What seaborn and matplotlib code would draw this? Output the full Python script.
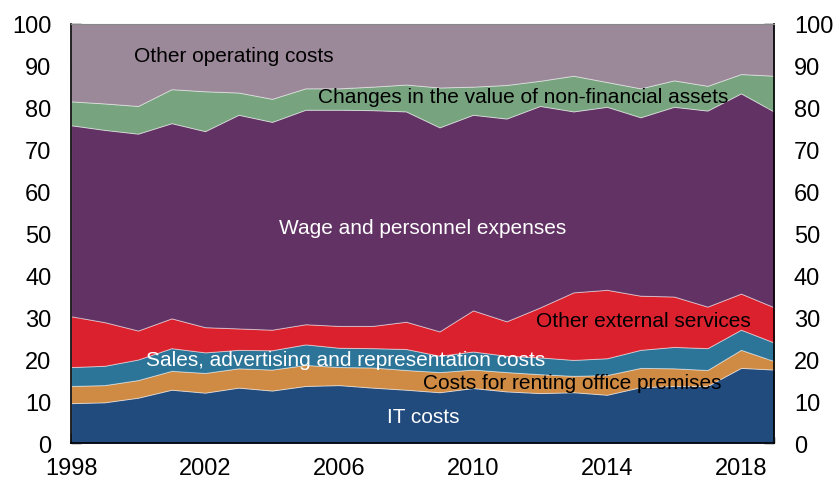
import numpy as np
import pandas as pd
import seaborn as sns
import matplotlib.pyplot as plt
from matplotlib.ticker import FixedLocator, MultipleLocator

# Cost shares, per cent of total operating costs
years = list(range(1998, 2020))
it_costs = [9.6, 9.8, 10.9, 12.8, 12.1, 13.3, 12.6, 13.7, 13.9, 13.3, 12.8,
            12.2, 13.2, 12.4, 12.0, 12.2, 11.6, 13.4, 13.7, 13.7, 18.0, 17.6]
renting = [4.1, 4.1, 4.2, 4.5, 4.7, 4.6, 5.0, 5.0, 4.3, 4.8, 4.7,
           4.8, 4.4, 4.6, 4.5, 3.9, 4.7, 4.6, 4.2, 3.8, 4.3, 2.0]
sales = [4.5, 4.6, 4.9, 5.4, 4.9, 4.4, 4.6, 4.9, 4.6, 4.6, 5.0,
         3.9, 4.3, 3.9, 4.0, 3.8, 4.0, 4.3, 5.1, 5.2, 4.8, 4.4]
other_external = [12.1, 10.4, 6.9, 7.1, 6.0, 5.1, 4.9, 4.8, 5.2, 5.3, 6.5,
                  5.8, 9.8, 8.2, 11.9, 16.1, 16.3, 12.9, 12.0, 9.9, 8.6, 8.4]
wages = [45.5, 45.8, 46.9, 46.5, 46.7, 50.9, 49.5, 51.1, 51.5, 51.4, 50.1,
         48.6, 46.6, 48.3, 48.0, 43.1, 43.6, 42.5, 45.2, 46.7, 47.7, 46.6]
changes = [5.7, 6.3, 6.6, 8.1, 9.5, 5.3, 5.5, 5.1, 5.1, 5.6, 6.4,
           9.5, 6.7, 8.0, 6.0, 8.5, 5.9, 6.9, 6.3, 5.9, 4.6, 8.6]
other_operating = [18.5, 19.0, 19.6, 15.6, 16.1, 16.4, 17.9, 15.4, 15.4, 15.0, 14.5,
                   15.2, 15.0, 14.6, 13.6, 12.4, 13.9, 15.4, 13.5, 14.8, 12.0, 12.4]
xtick_years = [1998, 2002, 2006, 2010, 2014, 2018]

df = pd.DataFrame({
    'IT costs': it_costs,
    'Costs for renting office premises': renting,
    'Sales, advertising and representation costs': sales,
    'Other external services': other_external,
    'Wage and personnel expenses': wages,
    'Changes in the value of non-financial assets': changes,
    'Other operating costs': other_operating,
}, index=years)

colors = ['#214a7d', '#cf8a43', '#2c7599', '#dc212e', '#623264', '#77a47f', '#9b8899']

sns.set_theme(style='ticks')
plt.rcParams['font.family'] = ['Liberation Sans', 'DejaVu Sans']

fig = plt.figure(figsize=(8.36, 4.81), dpi=100)
ax = fig.add_axes([0.085, 0.076, 0.8414, 0.8727])
ax.stackplot(df.index, df.T.values, colors=colors,
             edgecolor=(1, 1, 1, 0.45), linewidth=0.7)

ax.set_xlim(1998, 2019)
ax.set_ylim(0, 100)
ax.xaxis.set_major_locator(FixedLocator(xtick_years))
ax.xaxis.set_minor_locator(MultipleLocator(1))
ax.yaxis.set_major_locator(MultipleLocator(10))

ax.tick_params(axis='both', which='both', direction='in', colors='black',
               labelsize=17)
ax.tick_params(axis='x', which='major', length=7, width=1, pad=10)
ax.tick_params(axis='x', which='minor', length=4, width=1)
ax.tick_params(axis='y', which='major', length=7, width=1, pad=14,
               left=True, right=True, labelleft=True, labelright=True)

for side in ['left', 'right', 'bottom']:
    ax.spines[side].set_color('black')
    ax.spines[side].set_linewidth(1.2)
ax.spines['top'].set_color('#888888')
ax.spines['top'].set_linewidth(0.8)

# Labels on the areas
fs = 15
ax.text(2002.85, 92.3, 'Other operating costs', ha='center', va='center', fontsize=fs, color='black')
ax.text(2011.5, 82.7, 'Changes in the value of non-financial assets', ha='center', va='center',
        fontsize=fs, color='black')
ax.text(2008.5, 51.5, 'Wage and personnel expenses', ha='center', va='center', fontsize=fs, color='white')
ax.text(2015.1, 29.4, 'Other external services', ha='center', va='center', fontsize=fs, color='black')
ax.text(2006.2, 19.9, 'Sales, advertising and representation costs', ha='center', va='center',
        fontsize=fs, color='white')
ax.text(2012.95, 14.6, 'Costs for renting office premises', ha='center', va='center',
        fontsize=fs, color='black')
ax.text(2008.5, 6.3, 'IT costs', ha='center', va='center', fontsize=fs, color='white')

fig.savefig('out.png', dpi=100)
